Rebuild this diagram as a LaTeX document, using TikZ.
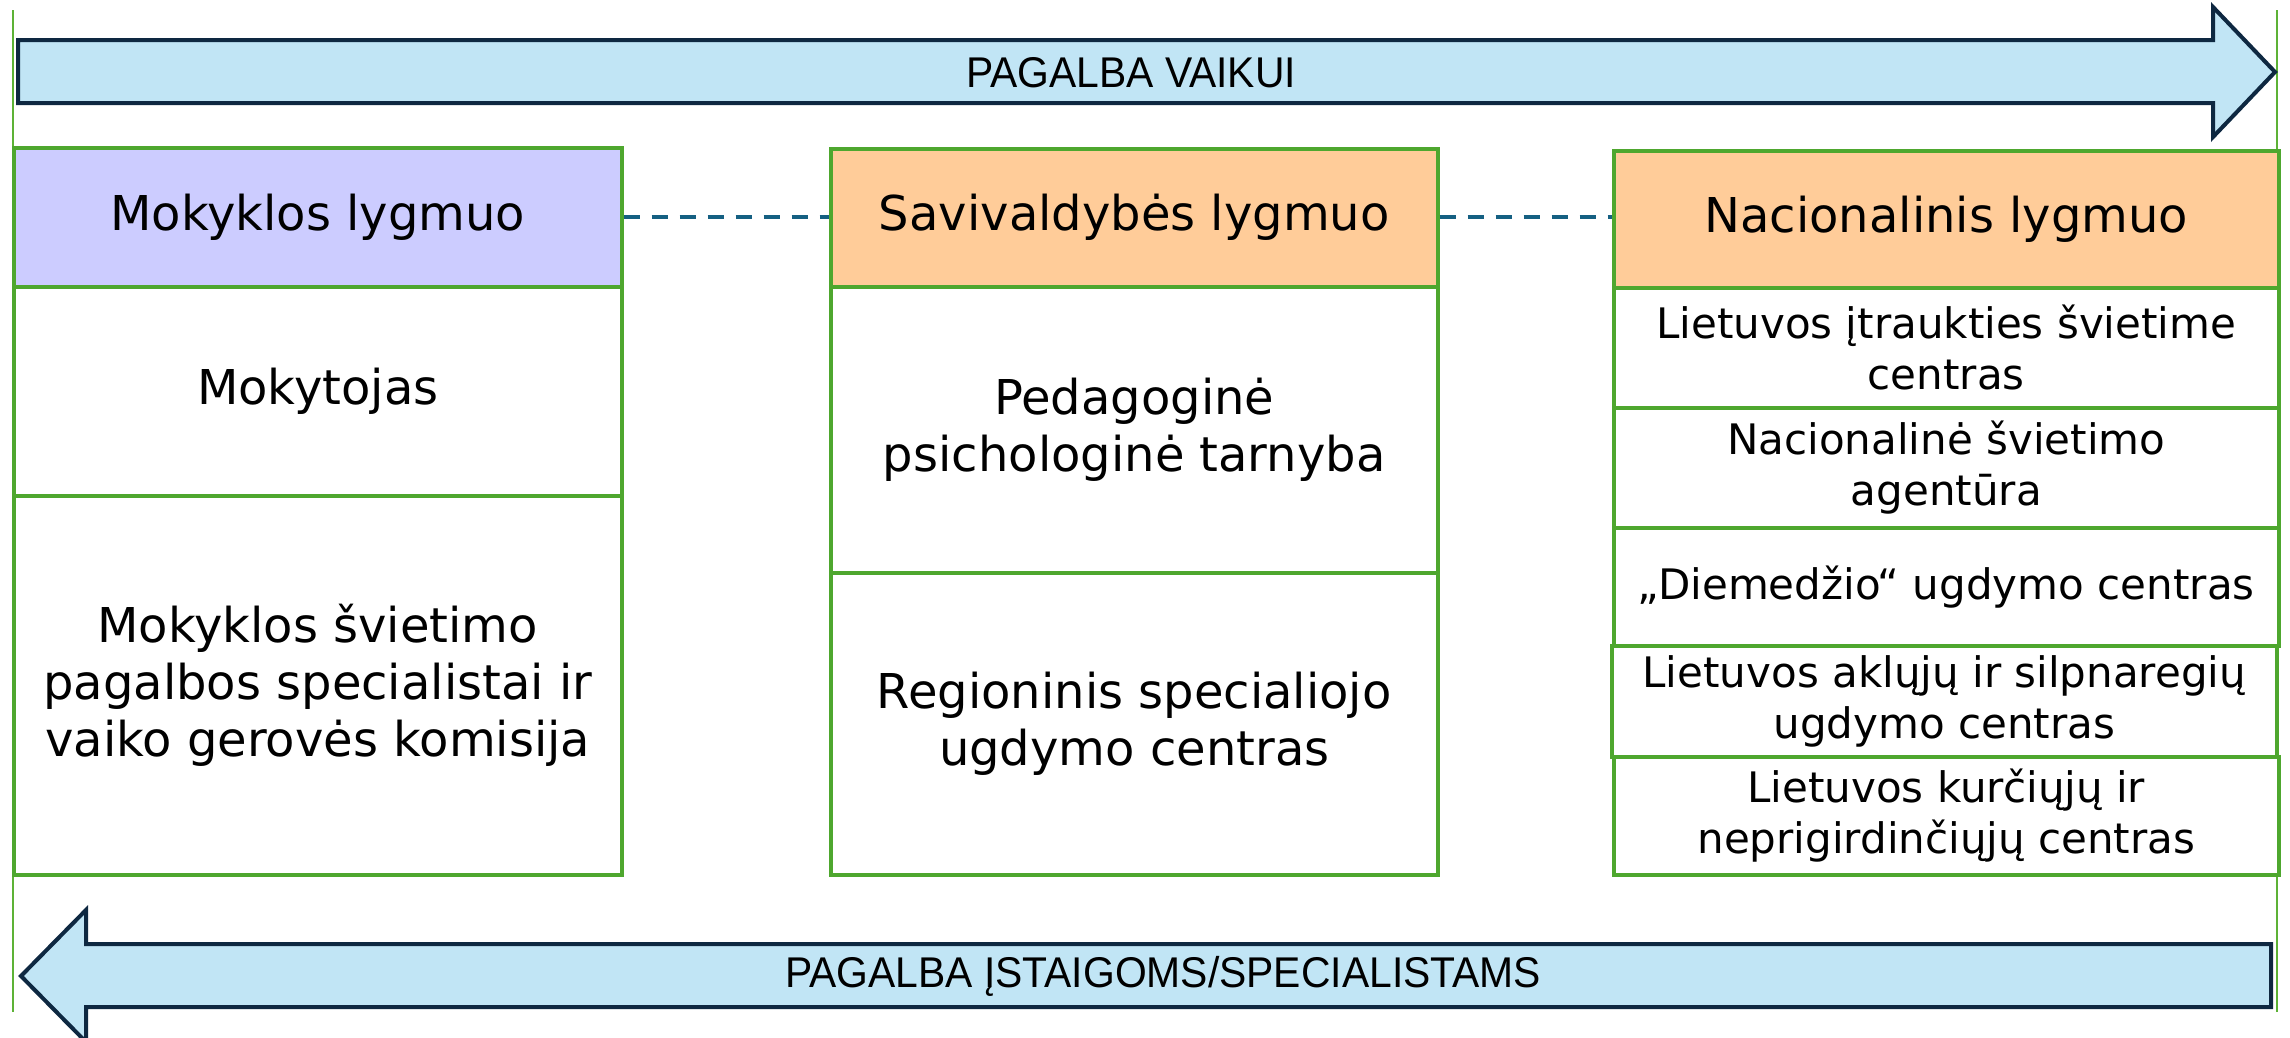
\documentclass[tikz,border=0pt]{standalone}
\usepackage{fontspec}
\setmainfont{DejaVu Sans}
\newfontfamily\arrowfont[FakeStretch=0.95]{Liberation Sans}
\definecolor{grn}{HTML}{4EA72E}
\definecolor{guide}{HTML}{5DB236}
\definecolor{arrfill}{HTML}{C1E5F5}
\definecolor{arrline}{HTML}{0E2841}
\definecolor{lav}{HTML}{CCCCFF}
\definecolor{peach}{HTML}{FFCC99}
\definecolor{dashc}{HTML}{156082}
\tikzset{
  cell/.style={draw=grn, line width=3.5pt, anchor=north west, align=center,
    inner sep=0pt, font=\fontsize{48}{57}\selectfont},
  small/.style={font=\fontsize{42}{51}\selectfont},
  bigarrow/.style={fill=arrfill, draw=arrline, line width=4pt, line join=miter},
  arrtext/.style={font=\arrowfont\fontsize{43}{50}\selectfont, inner sep=0pt},
  link/.style={draw=dashc, line width=4pt, dash pattern=on 16pt off 12pt},
  guideline/.style={draw=guide, line width=2.5pt}
}
\begin{document}
\begin{tikzpicture}[x=1pt,y=-1pt]
\useasboundingbox (0,0) rectangle (2290,1037);
% guide lines
\coordinate (gl1) at (13,10); \coordinate (gl2) at (13,1012);
\coordinate (gr1) at (2277,10); \coordinate (gr2) at (2277,1012);
\draw[guideline] (gl1) -- (gl2);
\draw[guideline] (gr1) -- (gr2);
% top arrow
\draw[bigarrow] (18,40) -- (2213,40) -- (2213,7) -- (2275,72) -- (2213,137) -- (2213,103) -- (18,103) -- cycle;
\node[arrtext] (ta) at (1131,73) {PAGALBA VAIKUI};
% bottom arrow
\draw[bigarrow] (2271,944) -- (86,944) -- (86,910) -- (21,976) -- (86,1042) -- (86,1007) -- (2271,1007) -- cycle;
\node[arrtext] (ba) at (1163,976) {PAGALBA ĮSTAIGOMS/SPECIALISTAMS};
% left column
\node[cell, fill=lav, minimum width=608pt, minimum height=139pt] (lh) at (12,146) {Mokyklos lygmuo};
\node[cell, fill=white, minimum width=608pt, minimum height=209pt] (l1) at (12,285) {Mokytojas};
\node[cell, fill=white, minimum width=608pt, minimum height=379pt] (l2) at (12,494) {Mokyklos švietimo\\pagalbos specialistai ir\\vaiko gerovės komisija};
% middle column
\node[cell, fill=peach, minimum width=607pt, minimum height=138pt] (mh) at (829,147) {Savivaldybės lygmuo};
\node[cell, fill=white, minimum width=607pt, minimum height=286pt] (m1) at (829,285) {Pedagoginė\\psichologinė tarnyba};
\node[cell, fill=white, minimum width=607pt, minimum height=302pt] (m2) at (829,571) {Regioninis specialiojo\\ugdymo centras};
% right column
\node[cell, fill=peach, minimum width=665pt, minimum height=137pt] (rh) at (1612,149) {Nacionalinis lygmuo};
\node[cell, small, fill=white, minimum width=665pt, minimum height=120pt] (r1) at (1612,286) {Lietuvos įtraukties švietime\\centras};
\node[cell, small, fill=white, minimum width=665pt, minimum height=120pt] (r2) at (1612,406) {Nacionalinė švietimo\\agentūra};
\node[cell, small, fill=white, minimum width=665pt, minimum height=118pt] (r3) at (1612,526) {„Diemedžio“ ugdymo centras};
\node[cell, small, fill=white, minimum width=665pt, minimum height=111pt] (r4) at (1610,644) {Lietuvos aklųjų ir silpnaregių\\ugdymo centras};
\node[cell, small, fill=white, minimum width=665pt, minimum height=118pt] (r5) at (1612,755) {Lietuvos kurčiųjų ir\\neprigirdinčiųjų centras};
% dashed links
\draw[link] (lh.east) -- (mh.west |- lh.east);
\draw[link] (mh.east |- lh.east) -- (rh.west |- lh.east);
\end{tikzpicture}
\end{document}
